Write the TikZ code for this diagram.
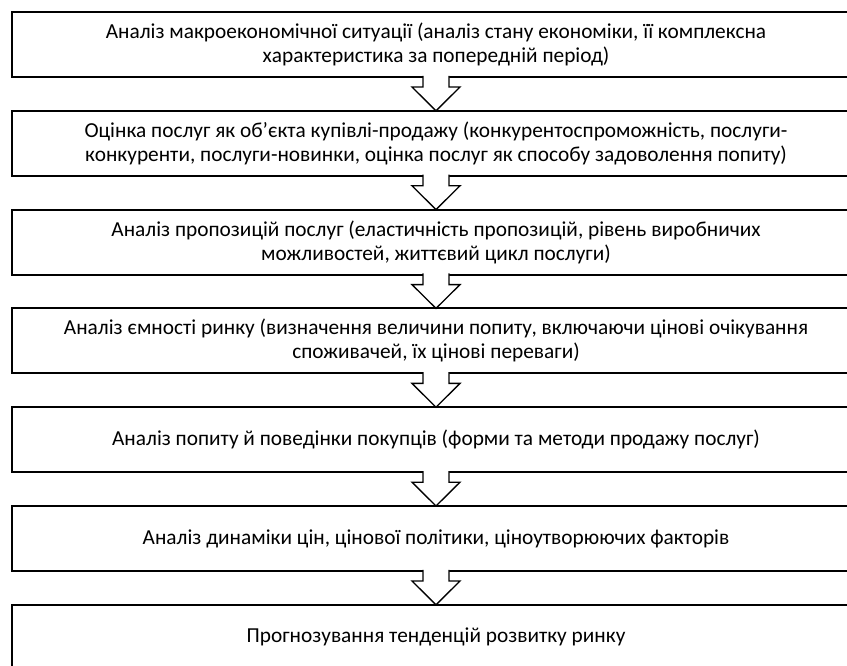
\documentclass[tikz,border=0pt]{standalone}
\usepackage{fontspec}
\setmainfont{Carlito}
\usetikzlibrary{calc}

\tikzset{
  box/.style={draw,line width=1.5pt,outer sep=0pt,minimum width=636pt,minimum height=48.75pt,
    align=center,font=\fontsize{16pt}{18pt}\selectfont},
  blk/.style={draw,fill=white,line width=1pt,line join=miter}
}

\begin{document}
\begin{tikzpicture}[x=0.75pt,y=-0.75pt]
\useasboundingbox (0,0) rectangle (847,665);
\clip (0,0) rectangle (847,665);
\node[box] (1) at (436,44.5) {Аналіз макроекономічної ситуації (аналіз стану економіки, її комплексна\\ характеристика за попередній період)};
\node[box] (2) at (436,143.3) {Оцінка послуг як об'єкта купівлі-продажу (конкурентоспроможність, послуги-\\ конкуренти, послуги-новинки, оцінка послуг як способу задоволення попиту)};
\node[box] (3) at (436,242.1) {Аналіз пропозицій послуг (еластичність пропозицій, рівень виробничих\\ можливостей, життєвий цикл послуги)};
\node[box] (4) at (436,340.9) {Аналіз ємності ринку (визначення величини попиту, включаючи цінові очікування\\ споживачей, їх цінові переваги)};
\node[box] (5) at (436,439.7) {Аналіз попиту й поведінки покупців (форми та методи продажу послуг)};
\node[box] (6) at (436,538.5) {Аналіз динаміки цін, цінової політики, ціноутворюючих факторів};
\node[box] (7) at (436,637.3) {Прогнозування тенденцій розвитку ринку};
\draw[blk] ($(1.south)+(-13,-1.2)$) -- ++(0,11.2) -- ++(-11,0) -- (2.north) -- ($(1.south)+(24,10)$) -- ++(-11,0) -- ++(0,-11.2);
\draw[blk] ($(2.south)+(-13,-1.2)$) -- ++(0,11.2) -- ++(-11,0) -- (3.north) -- ($(2.south)+(24,10)$) -- ++(-11,0) -- ++(0,-11.2);
\draw[blk] ($(3.south)+(-13,-1.2)$) -- ++(0,11.2) -- ++(-11,0) -- (4.north) -- ($(3.south)+(24,10)$) -- ++(-11,0) -- ++(0,-11.2);
\draw[blk] ($(4.south)+(-13,-1.2)$) -- ++(0,11.2) -- ++(-11,0) -- (5.north) -- ($(4.south)+(24,10)$) -- ++(-11,0) -- ++(0,-11.2);
\draw[blk] ($(5.south)+(-13,-1.2)$) -- ++(0,11.2) -- ++(-11,0) -- (6.north) -- ($(5.south)+(24,10)$) -- ++(-11,0) -- ++(0,-11.2);
\draw[blk] ($(6.south)+(-13,-1.2)$) -- ++(0,11.2) -- ++(-11,0) -- (7.north) -- ($(6.south)+(24,10)$) -- ++(-11,0) -- ++(0,-11.2);
\end{tikzpicture}
\end{document}
